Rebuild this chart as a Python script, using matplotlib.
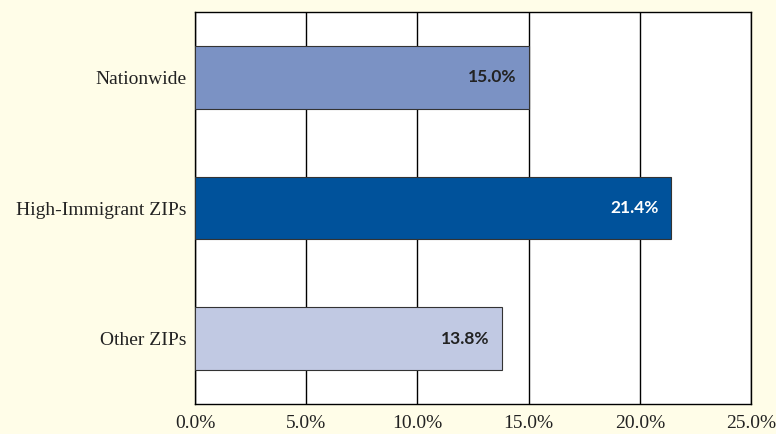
import matplotlib.pyplot as plt

categories = ['Nationwide', 'High-Immigrant ZIPs', 'Other ZIPs']
values = [15.0, 21.4, 13.8]
colors = ['#7b92c4', '#00529b', '#c1c9e3']
label_colors = ['#222222', 'white', '#222222']
xticks = [0, 5, 10, 15, 20, 25]

bg = '#fffde8'
fig = plt.figure(figsize=(7.76, 4.34), dpi=100, facecolor=bg)
ax = fig.add_axes([195 / 776, 1 - 404 / 434, (751 - 195) / 776, (404 - 12) / 434])
ax.set_facecolor('white')

ypos = range(len(categories))
ax.barh(ypos, values, height=0.48, color=colors, edgecolor='#333333', linewidth=0.8, zorder=3)

for y, v, c in zip(ypos, values, label_colors):
    ax.text(v - 0.55, y, f'{v:.1f}%', ha='right', va='center', fontsize=12.5,
            fontweight='bold', family='Lato', color=c, zorder=4)

ax.set_xlim(0, 25)
ax.set_ylim(2.5, -0.5)
ax.set_xticks(xticks)
ax.set_xticklabels([f'{t:.1f}%' for t in xticks], family='Liberation Serif', fontsize=14, color='#222222')
ax.set_yticks(list(ypos))
ax.set_yticklabels(categories, family='Liberation Serif', fontsize=14, color='#222222')
ax.tick_params(axis='y', length=0, pad=6)
ax.tick_params(axis='x', length=0, pad=8)
ax.xaxis.grid(True, color='black', linewidth=1, zorder=0)
for s in ax.spines.values():
    s.set_color('black')
    s.set_linewidth(1)

fig.savefig('out.png', dpi=100, facecolor=bg)
